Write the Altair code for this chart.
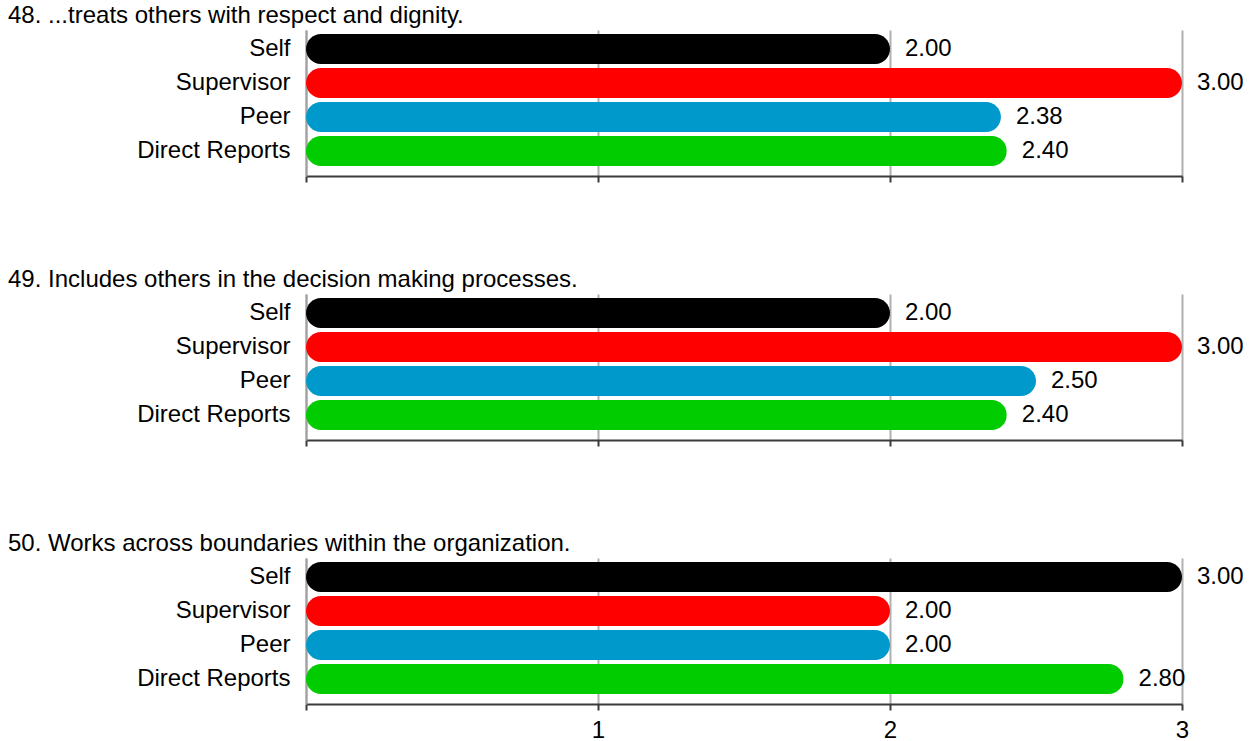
import altair as alt
import pandas as pd

groups = ["Self", "Supervisor", "Peer", "Direct Reports"]
colors = ["#000000", "#FF0000", "#0099CC", "#00CC00"]
titles = [
    "48. ...treats others with respect and dignity.",
    "49. Includes others in the decision making processes.",
    "50. Works across boundaries within the organization.",
]
scores_48 = [2.00, 3.00, 2.38, 2.40]
scores_49 = [2.00, 3.00, 2.50, 2.40]
scores_50 = [3.00, 2.00, 2.00, 2.80]
all_scores = [scores_48, scores_49, scores_50]
x_ticks = [0, 1, 2, 3]

FONT = "Liberation Sans"
FS = 24


def panel(title, scores, show_labels):
    df = pd.DataFrame({"group": groups, "score": scores})
    x = alt.X(
        "score:Q",
        scale=alt.Scale(domain=[0, 3], nice=False, zero=True),
        axis=alt.Axis(
            values=x_ticks,
            title=None,
            format="d",
            labelExpr="datum.value == 0 ? '' : datum.label",
            labels=show_labels,
            labelFlush=False,
            labelOverlap=False,
            labelFontSize=FS,
            labelFont=FONT,
            labelColor="#000000",
            labelPadding=8,
            domainColor="#3a3a3a",
            domainWidth=2,
            tickColor="#3a3a3a",
            tickWidth=2,
            tickSize=6,
            grid=True,
            gridColor="#b0b0b0",
            gridWidth=2,
        ),
    )
    y = alt.Y(
        "group:N",
        sort=groups,
        scale=alt.Scale(paddingInner=4 / 34, paddingOuter=0.206, align=0.286),
        axis=alt.Axis(
            title=None,
            ticks=False,
            labelFontSize=FS,
            labelFont=FONT,
            labelColor="#000000",
            labelPadding=16,
            labelLimit=400,
            minExtent=298,
            domainColor="#a0a0a0",
            domainWidth=2,
            grid=False,
        ),
    )
    base = alt.Chart(df)
    bars = base.mark_bar(cornerRadius=15).encode(
        x=x,
        y=y,
        color=alt.Color(
            "group:N",
            scale=alt.Scale(domain=groups, range=colors),
            legend=None,
        ),
    )
    text = base.mark_text(
        align="left", baseline="middle", dx=15, fontSize=FS, font=FONT, color="#000000"
    ).encode(
        x="score:Q",
        y=alt.Y("group:N", sort=groups),
        text=alt.Text("score:Q", format=".2f"),
    )
    return (bars + text).properties(
        width=876,
        height=146,
        title=alt.TitleParams(
            text=title,
            anchor="start",
            frame="group",
            dx=-298,
            offset=2,
            fontSize=FS,
            font=FONT,
            fontWeight="normal",
            color="#000000",
        ),
    )


charts = [panel(t, s, i == 2) for i, (t, s) in enumerate(zip(titles, all_scores))]
chart = (
    alt.vconcat(*charts, spacing=85)
    .properties(
        padding={"left": 8, "top": 4, "right": 0, "bottom": 0},
        background="white",
    )
    .configure_view(stroke=None, strokeWidth=0)
)

chart.save("out.html", embed_options={"renderer": "svg", "actions": False})
